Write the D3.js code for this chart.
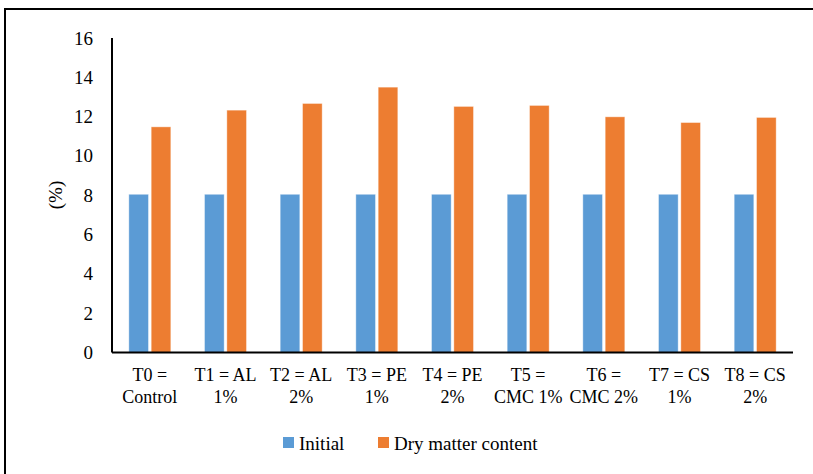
<!DOCTYPE html>
<html><head><meta charset="utf-8">
<script src="https://cdn.jsdelivr.net/npm/d3@7"></script>
</head><body style="margin:0">
<svg id="c" width="813" height="474" font-family="'Times New Roman', 'Liberation Serif', Tinos, FreeSerif, serif"></svg>
<script>
const categories = [["T0 =","Control"],["T1 = AL","1%"],["T2 = AL","2%"],["T3 = PE","1%"],["T4 = PE","2%"],["T5 =","CMC 1%"],["T6 =","CMC 2%"],["T7 = CS","1%"],["T8 = CS","2%"]];
const initial = [8.05,8.05,8.05,8.05,8.05,8.05,8.05,8.05,8.05];
const dryMatter = [11.48,12.33,12.67,13.5,12.52,12.57,11.99,11.7,11.96];
const seriesNames = ["Initial","Dry matter content"];
const yTicks = [0,2,4,6,8,10,12,14,16];
const colors = ["#5B9BD5","#ED7D31"];

const svg = d3.select("#c");
const F = `"Times New Roman", "Liberation Serif", Tinos, FreeSerif, serif`;
// frame
svg.append("line").attr("x1",5).attr("x2",813).attr("y1",9).attr("y2",9).attr("stroke","#000").attr("stroke-width",2);
svg.append("line").attr("x1",5).attr("x2",5).attr("y1",8).attr("y2",474).attr("stroke","#000").attr("stroke-width",2);

const pL=112,pR=793,pT=38,pB=352.5;
const x = d3.scaleBand().domain(d3.range(categories.length)).range([pL,pR]);
const x1 = d3.scaleBand().domain([0,1]).range([0,42]).paddingInner(0.12);
const y = d3.scaleLinear().domain([0,16]).range([pB,pT]);

const g = svg.append("g");
const series=[initial,dryMatter];
series.forEach((vals,si)=>{
  g.selectAll(null).data(vals).enter().append("rect")
   .attr("x",(d,i)=>x(i)+x.bandwidth()/2-21+x1(si))
   .attr("width",x1.bandwidth())
   .attr("y",d=>y(d)).attr("height",d=>pB-y(d))
   .attr("fill",colors[si]).attr("stroke","#fff").attr("stroke-opacity",0.5).attr("stroke-width",0.8);
});

// y axis
const ya = svg.append("g");
ya.append("line").attr("x1",pL).attr("x2",pL).attr("y1",pT).attr("y2",pB).attr("stroke","#000").attr("stroke-width",2);
yTicks.forEach(t=>{
  ya.append("text").attr("x",pL-19).attr("y",y(t)+6.5).attr("text-anchor","end").attr("font-size",19).attr("font-family",F).text(t);
});

// x axis
svg.append("line").attr("x1",pL).attr("x2",pR).attr("y1",pB).attr("y2",pB).attr("stroke","#000").attr("stroke-width",2);
categories.forEach((c,i)=>{
  const cx = x(i)+x.bandwidth()/2;
  svg.append("text").attr("x",cx).attr("y",381).attr("text-anchor","middle").attr("font-size",18).attr("font-family",F).text(c[0]);
  svg.append("text").attr("x",cx).attr("y",403).attr("text-anchor","middle").attr("font-size",18).attr("font-family",F).text(c[1]);
});

// y label
svg.append("text").attr("transform","translate(62,195) rotate(-90)").attr("text-anchor","middle").attr("font-size",19).attr("font-family",F).text("(%)");

// legend
const legX=[283,378];
seriesNames.forEach((n,i)=>{
  svg.append("rect").attr("x",legX[i]).attr("y",437).attr("width",11).attr("height",11).attr("fill",colors[i]);
  svg.append("text").attr("x",legX[i]+16).attr("y",449.5).attr("font-size",19).attr("font-family",F).text(n);
});
</script></body></html>
